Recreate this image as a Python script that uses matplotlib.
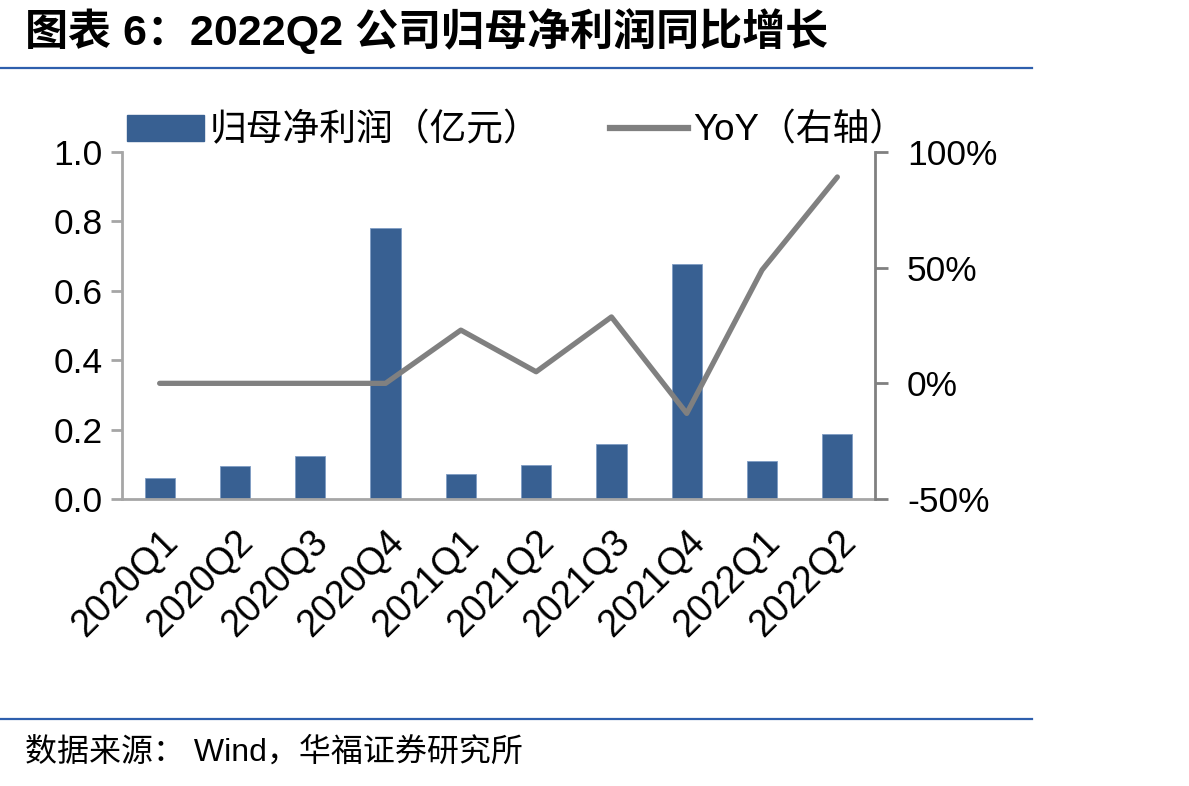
import matplotlib.pyplot as plt
from matplotlib.lines import Line2D
from matplotlib.ticker import FuncFormatter, MultipleLocator

plt.rcParams['font.family'] = ['Liberation Sans', 'Noto Sans CJK SC']

quarters = ['2020Q1', '2020Q2', '2020Q3', '2020Q4', '2021Q1',
            '2021Q2', '2021Q3', '2021Q4', '2022Q1', '2022Q2']
# 归母净利润（亿元）
profit = [0.060, 0.095, 0.124, 0.780, 0.072, 0.098, 0.158, 0.677, 0.110, 0.187]
# YoY (%)
yoy = [0.0, 0.0, 0.0, 0.0, 23.0, 5.0, 28.7, -13.0, 49.0, 89.2]

bar_color = '#386092'
line_color = '#808080'
rule_color = '#2e5fad'

fig = plt.figure(figsize=(11.89, 7.86), dpi=100)
ax = fig.add_axes([122 / 1189, 1 - 499 / 786, (875 - 122) / 1189, (499 - 152) / 786])
x = list(range(len(quarters)))
ax.bar(x, profit, width=0.4, color=bar_color, edgecolor='#7f9cc4', linewidth=0.6)
ax.set_xlim(-0.5, len(quarters) - 0.5)
ax.set_ylim(0, 1.0)
ax.yaxis.set_major_locator(MultipleLocator(0.2))
ax.yaxis.set_major_formatter(FuncFormatter(lambda v, p: '%.1f' % v))
ax.set_xticks(x)
ax.set_xticklabels(quarters, rotation=45, ha='right', rotation_mode='anchor')
ax.tick_params(axis='x', length=0, labelsize=27, pad=18)
ax.tick_params(axis='y', length=8, width=2, color='#a6a6a6', labelsize=25.5, pad=6)
for s in ['top', 'right']:
    ax.spines[s].set_visible(False)
for s in ['left', 'bottom']:
    ax.spines[s].set_color('#a6a6a6')
    ax.spines[s].set_linewidth(2)

ax2 = ax.twinx()
ax2.plot(x, yoy, color=line_color, linewidth=3.8, solid_capstyle='round')
ax2.set_ylim(-50, 100)
ax2.yaxis.set_major_locator(MultipleLocator(50))
ax2.yaxis.set_major_formatter(FuncFormatter(lambda v, p: '%d%%' % v))
ax2.tick_params(axis='y', length=9, width=2, color=line_color, labelsize=25.5, pad=14)
for s in ['top', 'left', 'bottom']:
    ax2.spines[s].set_visible(False)
ax2.spines['right'].set_color(line_color)
ax2.spines['right'].set_linewidth(2)

handles = [plt.Rectangle((0, 0), 1, 1, color=bar_color),
           Line2D([0], [0], color=line_color, linewidth=4.5)]
fig.legend(handles, ['归母净利润（亿元）', 'YoY（右轴）'], ncol=2, frameon=False,
           loc='center left', bbox_to_anchor=(127 / 1189, 1 - 131 / 786),
           fontsize=26.5, handlelength=2.1, handletextpad=0.15, columnspacing=1.9,
           borderaxespad=0, borderpad=0)

fig.text(25 / 1189, 1 - 31 / 786, '图表 6：2022Q2 公司归母净利润同比增长',
         fontsize=31, fontweight='bold', va='center', ha='left')
fig.add_artist(Line2D([0, 1032 / 1189], [1 - 68 / 786] * 2, color=rule_color, linewidth=1.6))
fig.add_artist(Line2D([0, 1032 / 1189], [1 - 719 / 786] * 2, color=rule_color, linewidth=1.6))
fig.text(25 / 1189, 1 - 752 / 786, '数据来源： Wind，华福证券研究所',
         fontsize=23, va='center', ha='left')

fig.savefig('out.png', dpi=100)
